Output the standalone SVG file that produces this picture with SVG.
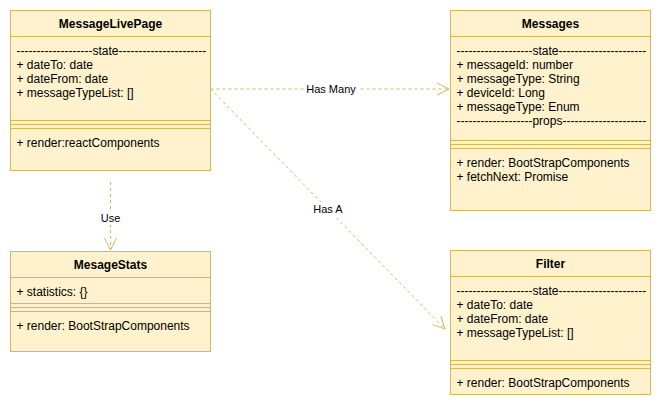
<svg xmlns="http://www.w3.org/2000/svg" width="661" height="407" viewBox="0 0 661 407">
<defs>
<style>
.box{fill:#fff2cc;stroke:#d6b656;stroke-width:1}
.ln{stroke:#d6b656;stroke-width:1;fill:none}
.t{font-family:"Liberation Sans",Arial,sans-serif;font-size:12px;fill:#000}
.h{font-family:"Liberation Sans",Arial,sans-serif;font-size:12px;font-weight:bold;fill:#000;text-anchor:middle}
.lbl{font-family:"Liberation Sans",Arial,sans-serif;font-size:11px;fill:#000;text-anchor:middle}
.edge{stroke:#d6b656;stroke-width:1;fill:none;stroke-dasharray:3 3}
</style>
<marker id="open" viewBox="0 0 14 14" refX="13" refY="7" markerWidth="14" markerHeight="14" markerUnits="userSpaceOnUse" orient="auto">
<path d="M1,1 L13,7 L1,13" fill="none" stroke="#d6b656" stroke-width="1"/>
</marker>
</defs>
<rect width="661" height="407" fill="#ffffff"/>
<g id="connectors">
<path class="edge" d="M210.5,89 L449,89" marker-end="url(#open)"/>
<rect x="306" y="82" width="52" height="14" fill="#ffffff"/>
<text class="lbl" x="331" y="93">Has Many</text>
<path class="edge" d="M210.5,89 L445,329" marker-end="url(#open)"/>
<rect x="311" y="202" width="34" height="14" fill="#ffffff"/>
<text class="lbl" x="328" y="213">Has A</text>
<path class="edge" d="M110.5,182 L110.5,250" marker-end="url(#open)"/>
<rect x="97" y="211" width="27" height="14" fill="#ffffff"/>
<text class="lbl" x="110.5" y="222">Use</text>
</g>
<g id="MessageLivePage">
<rect class="box" x="10.5" y="10.5" width="200" height="160"/>
<line class="ln" x1="10.5" y1="36.5" x2="210.5" y2="36.5"/>
<line class="ln" x1="10.5" y1="120.5" x2="210.5" y2="120.5"/>
<line class="ln" x1="10.5" y1="124.5" x2="210.5" y2="124.5"/>
<line class="ln" x1="10.5" y1="128.5" x2="210.5" y2="128.5"/>
<text class="h" x="110.5" y="28">MessageLivePage</text>
<text class="t" x="16.5" y="55">-------------------state----------------------</text>
<text class="t" x="16.5" y="69">+ dateTo: date</text>
<text class="t" x="16.5" y="83">+ dateFrom: date</text>
<text class="t" x="16.5" y="97">+ messageTypeList: []</text>
<text class="t" x="16.5" y="147">+ render:reactComponents</text>
</g>
<g id="Messages">
<rect class="box" x="450.5" y="10.5" width="200" height="200"/>
<line class="ln" x1="450.5" y1="36.5" x2="650.5" y2="36.5"/>
<line class="ln" x1="450.5" y1="140.5" x2="650.5" y2="140.5"/>
<line class="ln" x1="450.5" y1="144.5" x2="650.5" y2="144.5"/>
<line class="ln" x1="450.5" y1="148.5" x2="650.5" y2="148.5"/>
<text class="h" x="550.5" y="28">Messages</text>
<text class="t" x="456.5" y="55">-------------------state----------------------</text>
<text class="t" x="456.5" y="69">+ messageId: number</text>
<text class="t" x="456.5" y="83">+ messageType: String</text>
<text class="t" x="456.5" y="97">+ deviceId: Long</text>
<text class="t" x="456.5" y="111">+ messageType: Enum</text>
<text class="t" x="456.5" y="125">-------------------props---------------------</text>
<text class="t" x="456.5" y="167">+ render: BootStrapComponents</text>
<text class="t" x="456.5" y="181">+ fetchNext: Promise</text>
</g>
<g id="MesageStats">
<rect class="box" x="10.5" y="251.5" width="200" height="100"/>
<line class="ln" x1="10.5" y1="277.5" x2="210.5" y2="277.5"/>
<line class="ln" x1="10.5" y1="303.5" x2="210.5" y2="303.5"/>
<line class="ln" x1="10.5" y1="307.5" x2="210.5" y2="307.5"/>
<line class="ln" x1="10.5" y1="311.5" x2="210.5" y2="311.5"/>
<text class="h" x="110.5" y="269">MesageStats</text>
<text class="t" x="16.5" y="296">+ statistics: {}</text>
<text class="t" x="16.5" y="330">+ render: BootStrapComponents</text>
</g>
<g id="Filter">
<rect class="box" x="450.5" y="250.5" width="200" height="144"/>
<line class="ln" x1="450.5" y1="276.5" x2="650.5" y2="276.5"/>
<line class="ln" x1="450.5" y1="360.5" x2="650.5" y2="360.5"/>
<line class="ln" x1="450.5" y1="364.5" x2="650.5" y2="364.5"/>
<line class="ln" x1="450.5" y1="368.5" x2="650.5" y2="368.5"/>
<text class="h" x="550.5" y="268">Filter</text>
<text class="t" x="456.5" y="295">-------------------state----------------------</text>
<text class="t" x="456.5" y="309">+ dateTo: date</text>
<text class="t" x="456.5" y="323">+ dateFrom: date</text>
<text class="t" x="456.5" y="337">+ messageTypeList: []</text>
<text class="t" x="456.5" y="387">+ render: BootStrapComponents</text>
</g>
</svg>
